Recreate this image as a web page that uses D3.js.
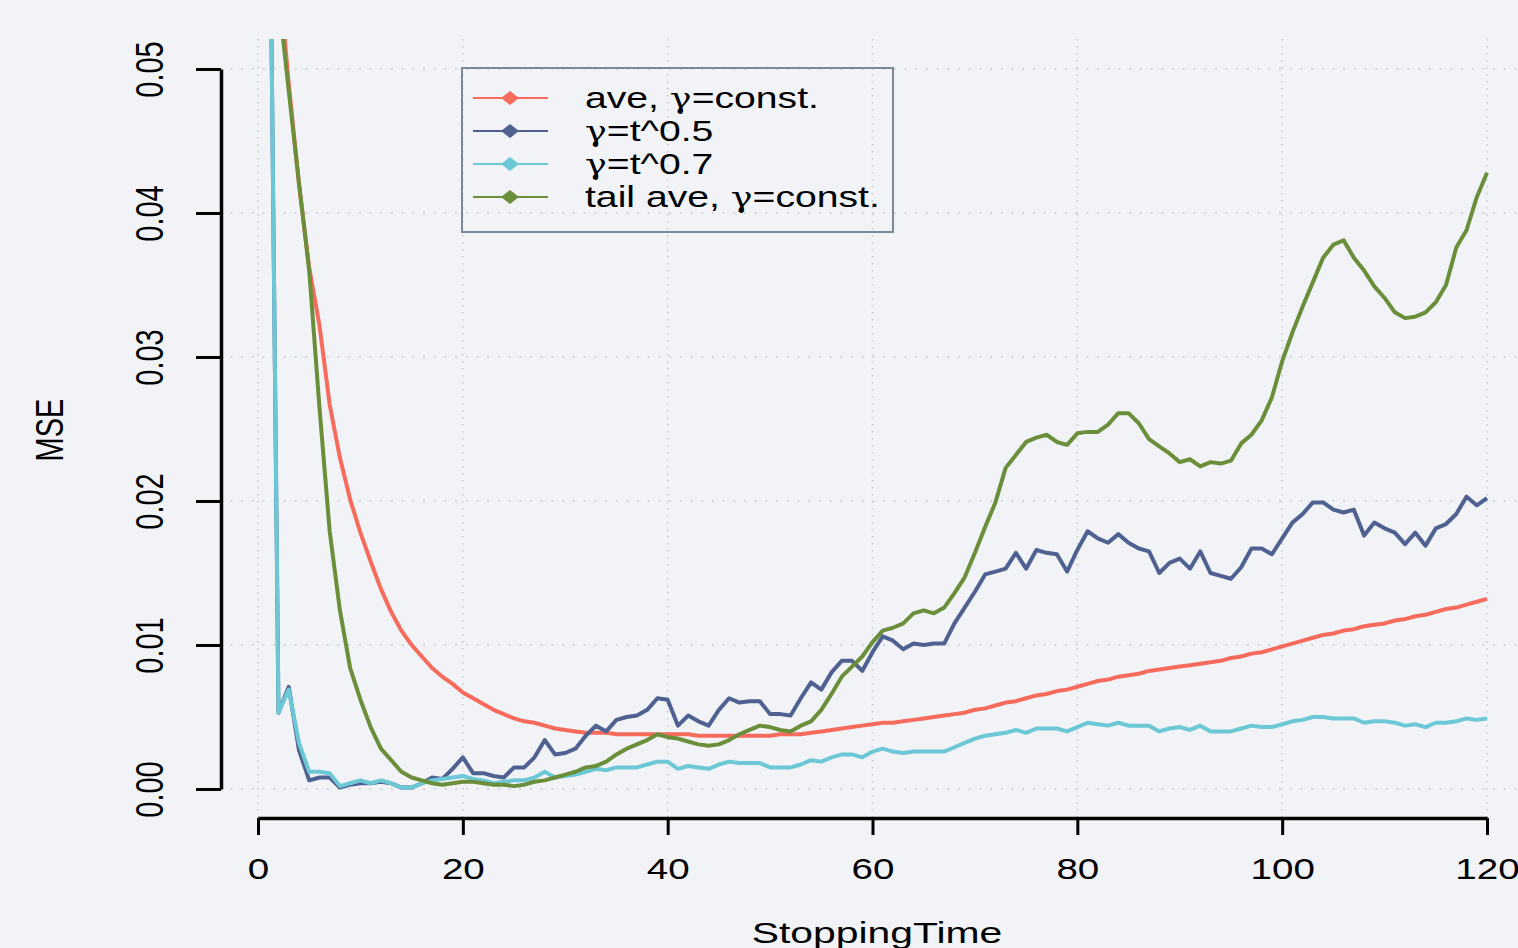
<!DOCTYPE html>
<html>
<head>
<meta charset="utf-8">
<script src="https://cdn.jsdelivr.net/npm/d3@7"></script>
<style>
  html, body { margin: 0; padding: 0; background: #f1f3f7; }
  svg { display: block; }
  text { font-family: "Liberation Sans", Arial, sans-serif; fill: #000; }
  .greek { font-family: "DejaVu Serif", serif; }
</style>
</head>
<body>
<div class="chart"></div>
<script>
// stopping times on the x axis
const stoppingTime = d3.range(1, 121);

// MSE for each method, one value per stopping time
const aveConst = [
  0.090, 0.057, 0.049, 0.042, 0.0362, 0.0322, 0.0267, 0.0230, 0.0201, 0.0178,
  0.0158, 0.0139, 0.0123, 0.0110, 0.0100, 0.0092, 0.0084, 0.0078, 0.0073, 0.0067,
  0.0063, 0.0059, 0.0055, 0.0052, 0.0049, 0.0047, 0.0046, 0.0044, 0.0042, 0.0041,
  0.0040, 0.0039, 0.0039, 0.0039, 0.0038, 0.0038, 0.0038, 0.0038, 0.0038, 0.0038,
  0.0038, 0.0038, 0.0037, 0.0037, 0.0037, 0.0037, 0.0037, 0.0037, 0.0037, 0.0037,
  0.0038, 0.0038, 0.0038, 0.0039, 0.0040, 0.0041, 0.0042, 0.0043, 0.0044, 0.0045,
  0.0046, 0.0046, 0.0047, 0.0048, 0.0049, 0.0050, 0.0051, 0.0052, 0.0053, 0.0055,
  0.0056, 0.0058, 0.0060, 0.0061, 0.0063, 0.0065, 0.0066, 0.0068, 0.0069, 0.0071,
  0.0073, 0.0075, 0.0076, 0.0078, 0.0079, 0.0080, 0.0082, 0.0083, 0.0084, 0.0085,
  0.0086, 0.0087, 0.0088, 0.0089, 0.0091, 0.0092, 0.0094, 0.0095, 0.0097, 0.0099,
  0.0101, 0.0103, 0.0105, 0.0107, 0.0108, 0.0110, 0.0111, 0.0113, 0.0114, 0.0115,
  0.0117, 0.0118, 0.0120, 0.0121, 0.0123, 0.0125, 0.0126, 0.0128, 0.0130, 0.0132
];

const gammaT05 = [
  0.074, 0.0053, 0.0071, 0.0027, 0.0006, 0.0008, 0.0008, 0.0001, 0.0003, 0.0004,
  0.0004, 0.0005, 0.0004, 0.0001, 0.0001, 0.0004, 0.0008, 0.0007, 0.0014, 0.0022,
  0.0011, 0.0011, 0.0009, 0.0008, 0.0015, 0.0015, 0.0022, 0.0034, 0.0024, 0.0025,
  0.0028, 0.0037, 0.0044, 0.0040, 0.0048, 0.0050, 0.0051, 0.0055, 0.0063, 0.0062,
  0.0044, 0.0051, 0.0047, 0.0044, 0.0055, 0.0063, 0.0060, 0.0061, 0.0061, 0.0052,
  0.0052, 0.0051, 0.0063, 0.0074, 0.0069, 0.0081, 0.0089, 0.0089, 0.0082, 0.0095,
  0.0106, 0.0103, 0.0097, 0.0101, 0.0100, 0.0101, 0.0101, 0.0115, 0.0126, 0.0137,
  0.0149, 0.0151, 0.0153, 0.0164, 0.0153, 0.0166, 0.0164, 0.0163, 0.0151, 0.0166,
  0.0179, 0.0174, 0.0171, 0.0177, 0.0171, 0.0167, 0.0165, 0.0150, 0.0157, 0.0160,
  0.0153, 0.0165, 0.0150, 0.0148, 0.0146, 0.0154, 0.0167, 0.0167, 0.0163, 0.0174,
  0.0185, 0.0191, 0.0199, 0.0199, 0.0194, 0.0192, 0.0194, 0.0176, 0.0185, 0.0181,
  0.0178, 0.0170, 0.0178, 0.0169, 0.0181, 0.0184, 0.0191, 0.0203, 0.0197, 0.0202
];

const gammaT07 = [
  0.074, 0.0053, 0.0069, 0.0032, 0.0012, 0.0012, 0.0011, 0.0002, 0.0004, 0.0006,
  0.0004, 0.0006, 0.0004, 0.0001, 0.0001, 0.0004, 0.0006, 0.0007, 0.0008, 0.0009,
  0.0007, 0.0006, 0.0004, 0.0005, 0.0006, 0.0006, 0.0008, 0.0012, 0.0008, 0.0009,
  0.0010, 0.0012, 0.0014, 0.0013, 0.0015, 0.0015, 0.0015, 0.0017, 0.0019, 0.0019,
  0.0014, 0.0016, 0.0015, 0.0014, 0.0017, 0.0019, 0.0018, 0.0018, 0.0018, 0.0015,
  0.0015, 0.0015, 0.0017, 0.0020, 0.0019, 0.0022, 0.0024, 0.0024, 0.0022, 0.0026,
  0.0028, 0.0026, 0.0025, 0.0026, 0.0026, 0.0026, 0.0026, 0.0029, 0.0032, 0.0035,
  0.0037, 0.0038, 0.0039, 0.0041, 0.0039, 0.0042, 0.0042, 0.0042, 0.0040, 0.0043,
  0.0046, 0.0045, 0.0044, 0.0046, 0.0044, 0.0044, 0.0044, 0.0040, 0.0042, 0.0043,
  0.0041, 0.0044, 0.0040, 0.0040, 0.0040, 0.0042, 0.0044, 0.0043, 0.0043, 0.0045,
  0.0047, 0.0048, 0.0050, 0.0050, 0.0049, 0.0049, 0.0049, 0.0046, 0.0047, 0.0047,
  0.0046, 0.0044, 0.0045, 0.0043, 0.0046, 0.0046, 0.0047, 0.0049, 0.0048, 0.0049
];

const tailAveConst = [
  0.090, 0.055, 0.0485, 0.0421, 0.0360, 0.0265, 0.0179, 0.0124, 0.0084, 0.0062,
  0.0043, 0.0028, 0.0020, 0.0012, 0.0008, 0.0006, 0.0004, 0.0003, 0.0004, 0.0005,
  0.0005, 0.0004, 0.0003, 0.0003, 0.0002, 0.0003, 0.0005, 0.0006, 0.0008, 0.0010,
  0.0012, 0.0015, 0.0016, 0.0019, 0.0024, 0.0028, 0.0031, 0.0034, 0.0038, 0.0036,
  0.0035, 0.0033, 0.0031, 0.0030, 0.0031, 0.0034, 0.0038, 0.0041, 0.0044, 0.0043,
  0.0041, 0.0040, 0.0044, 0.0047, 0.0055, 0.0066, 0.0078, 0.0085, 0.0092, 0.0102,
  0.0110, 0.0112, 0.0115, 0.0122, 0.0124, 0.0122, 0.0126, 0.0136, 0.0147, 0.0164,
  0.0182, 0.0199, 0.0223, 0.0232, 0.0241, 0.0244, 0.0246, 0.0241, 0.0239, 0.0247,
  0.0248, 0.0248, 0.0253, 0.0261, 0.0261, 0.0254, 0.0243, 0.0238, 0.0233, 0.0227,
  0.0229, 0.0224, 0.0227, 0.0226, 0.0228, 0.0240, 0.0246, 0.0256, 0.0272, 0.0297,
  0.0317, 0.0335, 0.0352, 0.0369, 0.0378, 0.0381, 0.0369, 0.0360, 0.0349, 0.0341,
  0.0331, 0.0327, 0.0328, 0.0331, 0.0338, 0.0350, 0.0376, 0.0388, 0.0411, 0.0428
];

// legend labels split round the gamma so it can use its own font
const seriesLabels = [
  ["ave, ", "\u03b3", "=const."],
  ["", "\u03b3", "=t^0.5"],
  ["", "\u03b3", "=t^0.7"],
  ["tail ave, ", "\u03b3", "=const."]
];
const seriesValues = [aveConst, gammaT05, gammaT07, tailAveConst];
const seriesColors = ["#f76b5d", "#4f6190", "#6cc8d5", "#6b8e3a"];

const xTicks = [0, 20, 40, 60, 80, 100, 120];
const yTicks = [0, 0.01, 0.02, 0.03, 0.04, 0.05];

document.addEventListener("DOMContentLoaded", function () {
  const w = 1518;
  const h = 948;
  const sx = 1.33; // the picture is stretched sideways, text too

  const xScale = d3.scaleLinear().domain([0, 120]).range([258, 1487]);
  const yScale = d3.scaleLinear().domain([0, 0.05]).range([789, 69]);

  const svg = d3
    .select(".chart")
    .append("svg")
    .attr("width", w)
    .attr("height", h);

  svg.append("rect").attr("width", w).attr("height", h).attr("fill", "#f1f3f7");

  //plot region
  const left = 209, right = 1536, top = 39, bottom = 818;

  svg
    .append("defs")
    .append("clipPath")
    .attr("id", "plot-clip")
    .append("rect")
    .attr("x", left)
    .attr("y", top)
    .attr("width", right - left)
    .attr("height", bottom - top);

  //dotted grid
  const grid = svg.append("g").attr("id", "grid");
  grid
    .selectAll("line.vgrid")
    .data(xTicks)
    .enter()
    .append("line")
    .attr("class", "vgrid")
    .attr("x1", (d) => xScale(d))
    .attr("x2", (d) => xScale(d))
    .attr("y1", top)
    .attr("y2", bottom)
    .attr("stroke", "#c9ccd1")
    .attr("stroke-width", 1.6)
    .attr("stroke-dasharray", "1.6,5.4");
  grid
    .selectAll("line.hgrid")
    .data(yTicks)
    .enter()
    .append("line")
    .attr("class", "hgrid")
    .attr("x1", left)
    .attr("x2", right)
    .attr("y1", (d) => yScale(d))
    .attr("y2", (d) => yScale(d))
    .attr("stroke", "#c9ccd1")
    .attr("stroke-width", 1.6)
    .attr("stroke-dasharray", "2,8.7");

  //lines
  const line = d3
    .line()
    .x((d, i) => xScale(stoppingTime[i]))
    .y((d) => yScale(d));

  svg
    .append("g")
    .attr("clip-path", "url(#plot-clip)")
    .selectAll("path")
    .data(seriesValues)
    .enter()
    .append("path")
    .attr("d", (d) => line(d))
    .attr("fill", "none")
    .attr("stroke", (d, i) => seriesColors[i])
    .attr("stroke-width", 4)
    .attr("stroke-linejoin", "round");

  //axes
  const xAxis = d3
    .axisBottom(xScale)
    .tickValues(xTicks)
    .tickSize(17)
    .tickSizeOuter(0)
    .tickFormat(d3.format("d"));
  const gx = svg
    .append("g")
    .attr("id", "x-axis")
    .attr("transform", "translate(0," + bottom + ")")
    .call(xAxis);
  gx.select(".domain").attr("stroke", "#000").attr("stroke-width", 3.5);
  gx.selectAll(".tick line").attr("stroke", "#000").attr("stroke-width", 3);
  gx.selectAll("text")
    .attr("y", null)
    .attr("dy", null)
    .attr("fill", "#000")
    .style("font-size", "29px")
    .attr("transform", "translate(0,61) scale(" + sx + ",1)");

  const yAxis = d3
    .axisLeft(yScale)
    .tickValues(yTicks)
    .tickSize(25)
    .tickSizeOuter(0)
    .tickFormat(d3.format(".2f"));
  const gy = svg
    .append("g")
    .attr("id", "y-axis")
    .attr("transform", "translate(221,0)")
    .call(yAxis);
  gy.select(".domain").attr("stroke", "#000").attr("stroke-width", 3.5);
  gy.selectAll(".tick line").attr("stroke", "#000").attr("stroke-width", 3);
  gy.selectAll("text")
    .attr("x", null)
    .attr("dy", null)
    .attr("text-anchor", "middle")
    .attr("fill", "#000")
    .style("font-size", "29px")
    .attr("transform", "translate(-58,0) scale(" + sx + ",1) rotate(-90)");

  //axis titles
  svg
    .append("text")
    .attr("text-anchor", "middle")
    .style("font-size", "29px")
    .attr("transform", "translate(877,943) scale(1.41,1)")
    .text("StoppingTime");
  svg
    .append("text")
    .attr("text-anchor", "middle")
    .style("font-size", "29px")
    .attr("transform", "translate(63,430) scale(" + sx + ",1) rotate(-90)")
    .text("MSE");

  //legend
  const legend = svg.append("g").attr("id", "legend");
  legend
    .append("rect")
    .attr("x", 462)
    .attr("y", 68)
    .attr("width", 431)
    .attr("height", 164)
    .attr("fill", "none")
    .attr("stroke", "#7b8a96")
    .attr("stroke-width", 2);

  const rows = legend
    .selectAll("g.row")
    .data(seriesLabels)
    .enter()
    .append("g")
    .attr("class", "row")
    .attr("transform", (d, i) => "translate(0," + (98 + i * 33) + ")");
  rows
    .append("line")
    .attr("x1", 473)
    .attr("x2", 548)
    .attr("stroke", (d, i) => seriesColors[i])
    .attr("stroke-width", 2);
  rows
    .append("path")
    .attr("d", "M501,0 L510,-7 L519,0 L510,7 Z")
    .attr("fill", (d, i) => seriesColors[i]);
  const label = rows
    .append("text")
    .style("font-size", "29px")
    .attr("transform", "translate(585,10) scale(1.35,1)");
  label.append("tspan").text((d) => d[0]);
  label.append("tspan").attr("class", "greek").style("font-size", "27px").text((d) => d[1]);
  label.append("tspan").text((d) => d[2]);
});
</script>
</body>
</html>
